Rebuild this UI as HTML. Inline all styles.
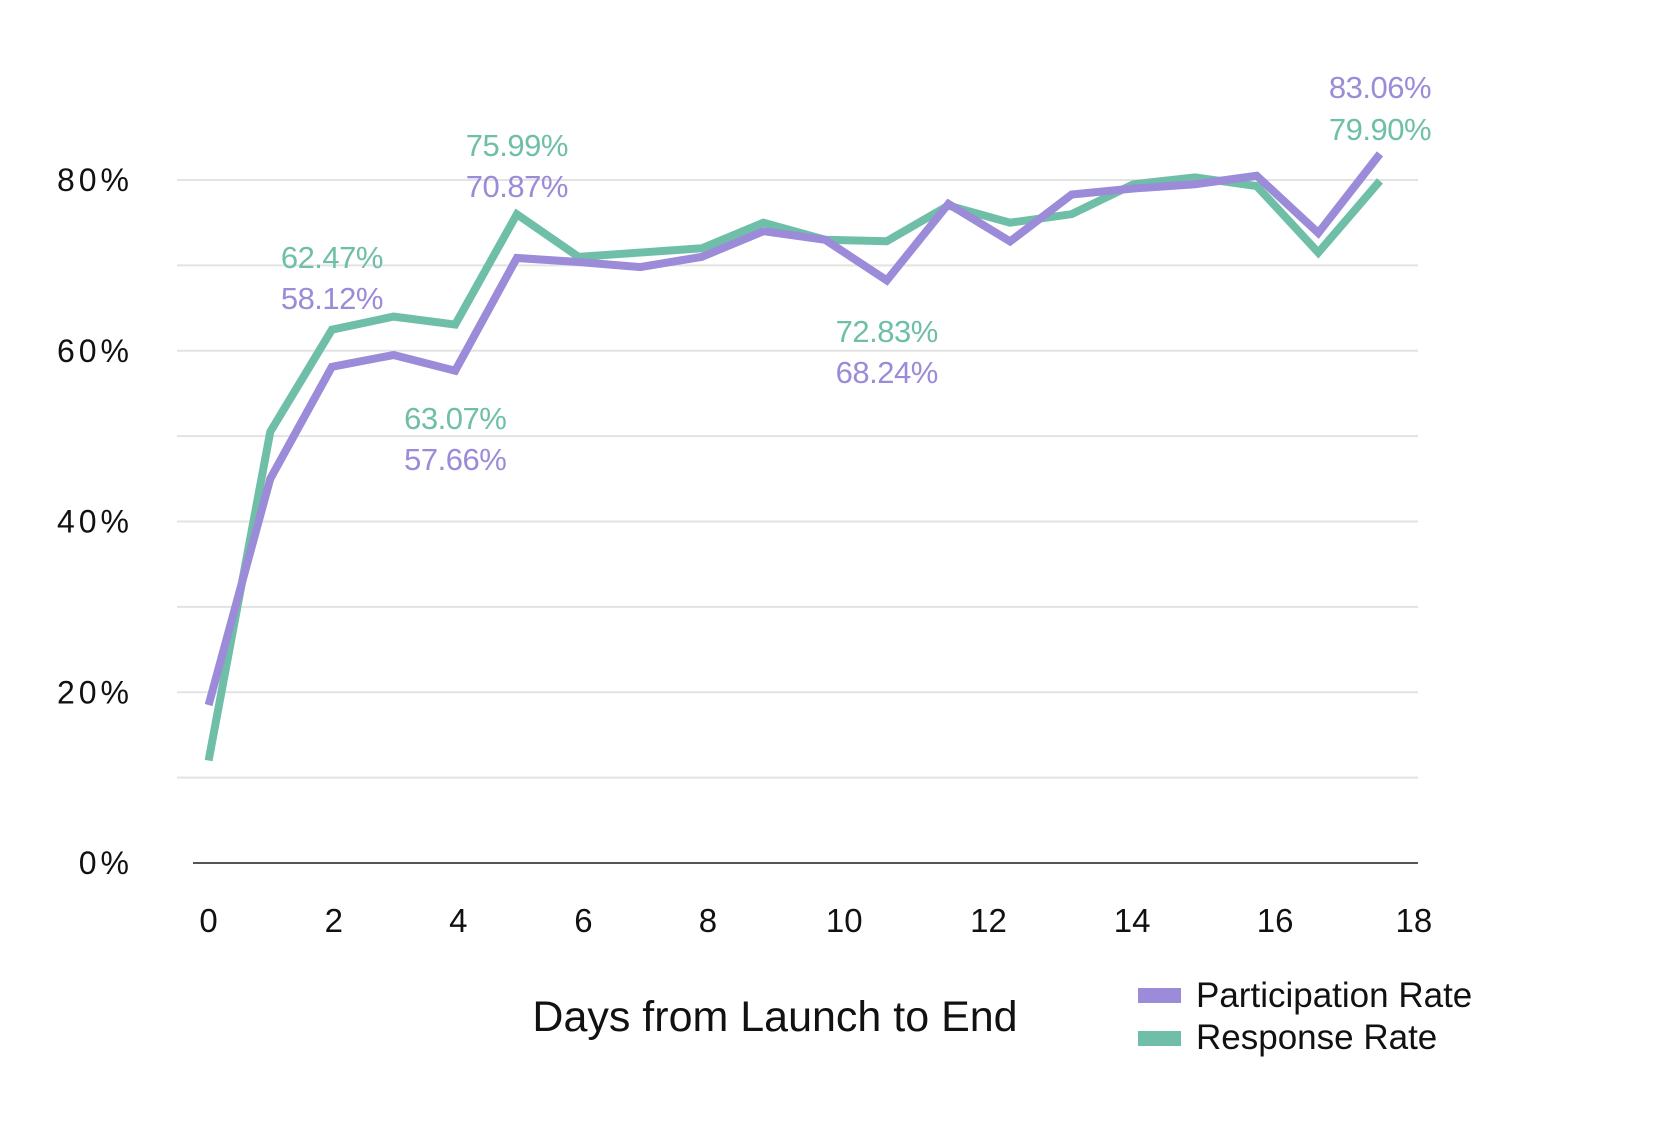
<!DOCTYPE html>
<html><head><meta charset="utf-8"><style>
body{margin:0;background:#fff;}
svg{display:block;font-family:"Liberation Sans",sans-serif;}
</style></head><body>
<svg id="chart" width="1660" height="1138" viewBox="0 0 1660 1138">
<g id="grid"></g>
<g id="yax"></g>
<g id="xax"></g>
<g id="lines"></g>
<g id="ann"></g>
<text x="775" y="1031" text-anchor="middle" font-size="43" fill="#111">Days from Launch to End</text>
<g>
<rect x="1138" y="988" width="43" height="15" fill="#9b8bd8"/>
<text x="1196" y="1007" font-size="35" fill="#111">Participation Rate</text>
<rect x="1138" y="1031" width="43" height="15" fill="#6fbfa8"/>
<text x="1196" y="1049" font-size="35" fill="#111">Response Rate</text>
</g>
</svg>
<script>
const participation=[18.5,45,58.12,59.5,57.66,70.87,70.4,69.8,71,74,73,68.24,77.2,72.8,78.3,79,79.5,80.5,73.8,83.06];
const response=[12,50.5,62.47,64,63.07,75.99,71,71.5,72,75,73,72.83,77,75,76,79.5,80.3,79.3,71.5,79.9];
const yTicks=[0,20,40,60,80];
const gridVals=[10,20,30,40,50,60,70,80];
const xTickLabels=[0,2,4,6,8,10,12,14,16,18];
const xTickIdx=[0,2.03,4.05,6.08,8.1,10.31,12.65,14.98,17.3,19.55];
const annIdx=[2,4,5,11,19];
const annY=[[268,309],[429,470],[156,197],[342,383],[98,140]];
const NS="http://www.w3.org/2000/svg";
const x=i=>208.6+i*61.65;
const y=v=>863-v*8.5375;
function el(t,a,p){const e=document.createElementNS(NS,t);for(const k in a)e.setAttribute(k,a[k]);p.appendChild(e);return e;}
const grid=document.getElementById('grid');
gridVals.forEach(v=>{const l=el('line',{x1:177,x2:1418,y1:y(v),y2:y(v),stroke:'#e3e3e3','stroke-width':2},grid);

});
const ax=el('line',{x1:193,x2:1418,y1:863,y2:863,stroke:'#555','stroke-width':2},grid);


const yax=document.getElementById('yax');
yTicks.forEach(v=>{const t=el('text',{x:133,y:y(v)+11,'text-anchor':'end','font-size':32,fill:'#111','letter-spacing':'4'},yax);t.textContent=v+'%';

});
const xax=document.getElementById('xax');
xTickLabels.forEach((v,i)=>{const t=el('text',{x:x(xTickIdx[i]),y:932,'text-anchor':'middle','font-size':33,fill:'#111'},xax);t.textContent=v;

});
const lines=document.getElementById('lines');
[[response,'#6fbfa8','response-rate-line'],[participation,'#9b8bd8','participation-rate-line']].forEach(([d,c,n])=>{
const p=el('polyline',{points:d.map((v,i)=>x(i)+','+y(v)).join(' '),fill:'none',stroke:c,'stroke-width':8,'stroke-linejoin':'miter'},lines);

});
const ann=document.getElementById('ann');
annIdx.forEach((i,k)=>{
const firstIsGreen=(i!==19);
const firstVal=firstIsGreen?response[i]:participation[i];
const secondVal=firstIsGreen?participation[i]:response[i];
const t1=el('text',{x:x(i),y:annY[k][0],'text-anchor':'middle','font-size':31,'letter-spacing':'-0.5',fill:firstIsGreen?'#6fbfa8':'#9b8bd8'},ann);t1.textContent=firstVal.toFixed(2)+'%';


const t2=el('text',{x:x(i),y:annY[k][1],'text-anchor':'middle','font-size':31,'letter-spacing':'-0.5',fill:firstIsGreen?'#9b8bd8':'#6fbfa8'},ann);t2.textContent=secondVal.toFixed(2)+'%';


});
</script>
</body></html>
